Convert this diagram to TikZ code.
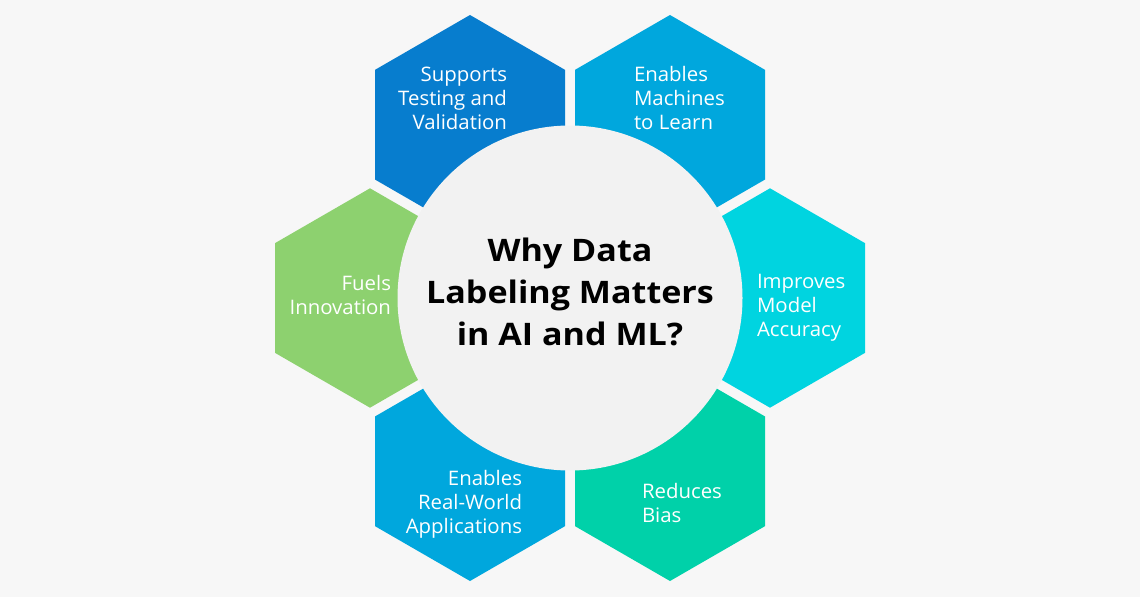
\documentclass[tikz,border=0pt]{standalone}
\usepackage{fontspec}
\setmainfont{Open Sans}
\usetikzlibrary{shapes.geometric}
\definecolor{bg}{HTML}{F7F7F7}
\definecolor{circ}{HTML}{F2F2F2}
\definecolor{hexA}{HTML}{077DCE}
\definecolor{hexB}{HTML}{00A7DD}
\definecolor{hexC}{HTML}{00D4E0}
\definecolor{hexD}{HTML}{00D1A9}
\definecolor{hexE}{HTML}{8DD16F}
\begin{document}
\begin{tikzpicture}[x=1pt,y=-1pt,
  hexa/.style={regular polygon, regular polygon sides=6, shape border rotate=30,
    minimum size=219.4pt, inner sep=0pt, outer sep=0pt, draw=none},
  lbl/.style={text=white, font=\fontsize{20}{24}\selectfont, inner sep=0pt, outer sep=0pt, xscale=1.02, transform shape},
  ttl/.style={text=black, font=\fontsize{31}{41.7}\selectfont\bfseries, inner sep=0pt, outer sep=0pt, align=center, xscale=1.1, transform shape}]
\fill[white] (0,0) rectangle (1142,599);
\fill[bg] (0,0) rectangle (1140,597);
\useasboundingbox (0,0) rectangle (1142,599);
\node[hexa, fill=hexA] (h1) at (470,124.7) {};
\node[hexa, fill=hexB] (h2) at (670,124.7) {};
\node[hexa, fill=hexC] (h3) at (770,298) {};
\node[hexa, fill=hexD] (h4) at (670,471.3) {};
\node[hexa, fill=hexB] (h5) at (470,471.3) {};
\node[hexa, fill=hexE] (h6) at (370,298) {};
\node[circle, fill=circ, minimum size=345pt, inner sep=0pt, outer sep=0pt] (c) at (570,298) {};
\node[lbl, anchor=base east, align=right] (t1) at (507,129.7) {Supports\\Testing and\\Validation};
\node[lbl, anchor=base west, align=left] (t2) at (634,129.7) {Enables\\Machines\\to Learn};
\node[lbl, anchor=base west, align=left] (t3) at (757,336) {Improves\\Model\\Accuracy};
\node[lbl, anchor=base west, align=left] (t4) at (642,522) {Reduces\\Bias};
\node[lbl, anchor=base east, align=right] (t5) at (522,533.7) {Enables\\Real-World\\Applications};
\node[lbl, anchor=base east, align=right] (t6) at (391,314) {Fuels\\Innovation};
\node[ttl, anchor=base] (title) at (570,345) {Why Data\\Labeling Matters\\in AI and ML?};
\end{tikzpicture}
\end{document}
